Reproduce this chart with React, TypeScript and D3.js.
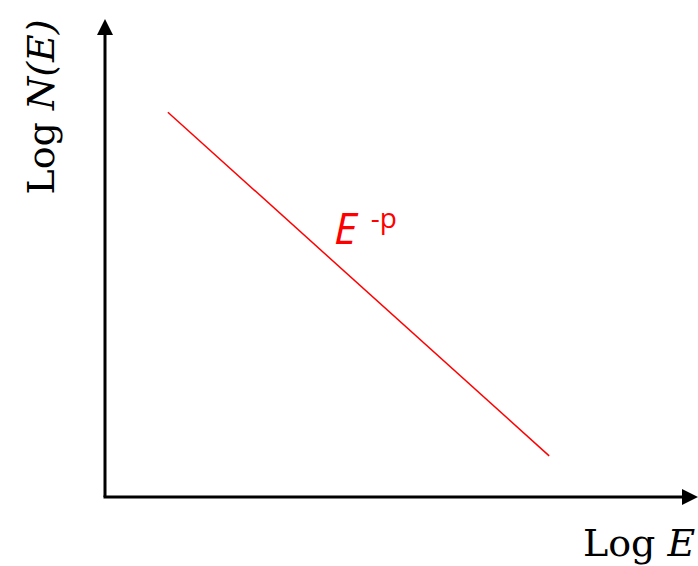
import React from "react";
import * as d3 from "d3";

// Power-law spectrum in log-log space: log N(E) falls linearly with log E.
const logE: number[] = [1.06, 7.49];
const logN: number[] = [8.05, 0.86];
const xAxisTitle = ["Log ", "E"];
const yAxisTitle = ["Log ", "N", "(", "E", ")"];
const curveLabel = ["E", "-p"];

const W = 698;
const H = 566;

export default function App() {
  const x = d3.scaleLinear().domain([0, 10]).range([105, 698]);
  const y = d3.scaleLinear().domain([0, 10]).range([497, 19]);

  const pts: [number, number][] = logE.map((e, i) => [e, logN[i]]);
  const line = d3
    .line<[number, number]>()
    .x((d) => x(d[0]))
    .y((d) => y(d[1]));

  const x0 = x(0);
  const y0 = y(0);
  const xEnd = x(10);
  const yEnd = y(10);

  const serif = "'DejaVu Serif', 'Liberation Serif', serif";

  return (
    <svg
      width={W}
      height={H}
      style={{ position: "absolute", left: 0, top: 0, background: "#fff" }}
    >
      {/* axes */}
      <line x1={x0} y1={y0} x2={x0} y2={yEnd + 14} stroke="#000" strokeWidth={3} />
      <path d={`M${x0},${yEnd} L${x0 - 8},${yEnd + 16} L${x0 + 8},${yEnd + 16} Z`} fill="#000" />
      <line x1={x0 - 1.5} y1={y0} x2={xEnd - 14} y2={y0} stroke="#000" strokeWidth={3} />
      <path d={`M${xEnd},${y0} L${xEnd - 16},${y0 - 8} L${xEnd - 16},${y0 + 8} Z`} fill="#000" />

      {/* spectrum line */}
      <path d={line(pts) ?? ""} fill="none" stroke="#ff0000" strokeWidth={1.5} />

      {/* curve label */}
      <text
        x={334}
        y={244}
        fill="#ff0000"
        fontFamily="'Open Sans', 'Liberation Sans', sans-serif"
        fontSize={44}
      >
        <tspan fontStyle="italic">{curveLabel[0]}</tspan>
        <tspan dx={14} dy={-16} fontSize={28}>{curveLabel[1]}</tspan>
      </text>

      {/* axis titles */}
      <text x={583} y={556} fontFamily={serif} fontSize={38} fill="#000">
        <tspan>{xAxisTitle[0]}</tspan>
        <tspan fontStyle="italic">{xAxisTitle[1]}</tspan>
      </text>
      <text
        transform={`translate(54,107) rotate(-90)`}
        textAnchor="middle"
        fontFamily={serif}
        fontSize={38}
        fill="#000"
      >
        <tspan>{yAxisTitle[0]}</tspan>
        <tspan fontStyle="italic">{yAxisTitle[1]}</tspan>
        <tspan fontStyle="italic">{yAxisTitle[2]}</tspan>
        <tspan fontStyle="italic">{yAxisTitle[3]}</tspan>
        <tspan fontStyle="italic">{yAxisTitle[4]}</tspan>
      </text>
    </svg>
  );
}
